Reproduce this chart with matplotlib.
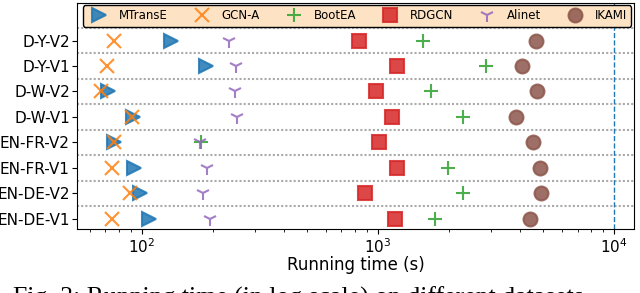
import matplotlib
matplotlib.use('Agg')
import matplotlib.pyplot as plt

datasets = ['EN-DE-V1', 'EN-DE-V2', 'EN-FR-V1', 'EN-FR-V2', 'D-W-V1', 'D-W-V2', 'D-Y-V1', 'D-Y-V2']

# running time (s), same order as datasets
mtranse = [107, 98, 93, 76, 92, 72, 187, 133]
gcn_a = [75, 89, 75, 76, 91, 67, 71, 76]
bootea = [1740, 2290, 1970, 178, 2300, 1670, 2875, 1545]
rdgcn = [1180, 880, 1205, 1010, 1150, 980, 1205, 830]
alinet = [195, 182, 189, 177, 252, 247, 250, 234]
ikami = [4400, 4890, 4840, 4540, 3830, 4700, 4065, 4660]

series = [
    ('MTransE', mtranse, '>', 'tab:blue'),
    ('GCN-A', gcn_a, 'x', 'tab:orange'),
    ('BootEA', bootea, '+', 'tab:green'),
    ('RDGCN', rdgcn, 's', 'tab:red'),
    ('Alinet', alinet, '1', 'tab:purple'),
    ('IKAMI', ikami, 'o', 'tab:brown'),
]

fig = plt.figure(figsize=(6.4, 2.93), dpi=100)
ax = fig.add_axes([0.120, 0.217, 0.871, 0.773])

ypos = list(range(len(datasets)))
for name, vals, m, c in series:
    ax.plot(vals, ypos, linestyle='none', marker=m, color=c, markersize=10,
            markeredgewidth=1.5, alpha=0.85, label=name)

for k in range(len(datasets)):
    ax.axhline(k + 0.5, color='#aaaaaa', linestyle=(0, (1, 1)), lw=1.5, zorder=0)
ax.axvline(1e4, color='tab:blue', linestyle='--', lw=1)

ax.set_xscale('log')
ax.set_xlim(53, 12160)
ax.set_ylim(-0.42, 8.48)
ax.set_yticks(ypos)
ax.set_yticklabels(datasets, fontsize=11)
ax.tick_params(axis='y', pad=1.5)
ax.tick_params(axis='x', labelsize=11, pad=2)
ax.set_xlabel('Running time (s)', fontsize=12, labelpad=0)

ax.legend(loc='upper center', bbox_to_anchor=(0.503, 1.0), ncol=6, fontsize=8.5,
          facecolor='#fde3c4', edgecolor='black', framealpha=1, fancybox=True,
          handletextpad=0.7, columnspacing=1.85, borderpad=0.35, borderaxespad=0.2)

fig.text(0.02, 1 - 287 / 293, 'Fig. 3: Running time (in log scale) on different datasets.',
         family='Liberation Serif', fontsize=18.5, va='top', ha='left')

plt.savefig('out.png', dpi=100)
